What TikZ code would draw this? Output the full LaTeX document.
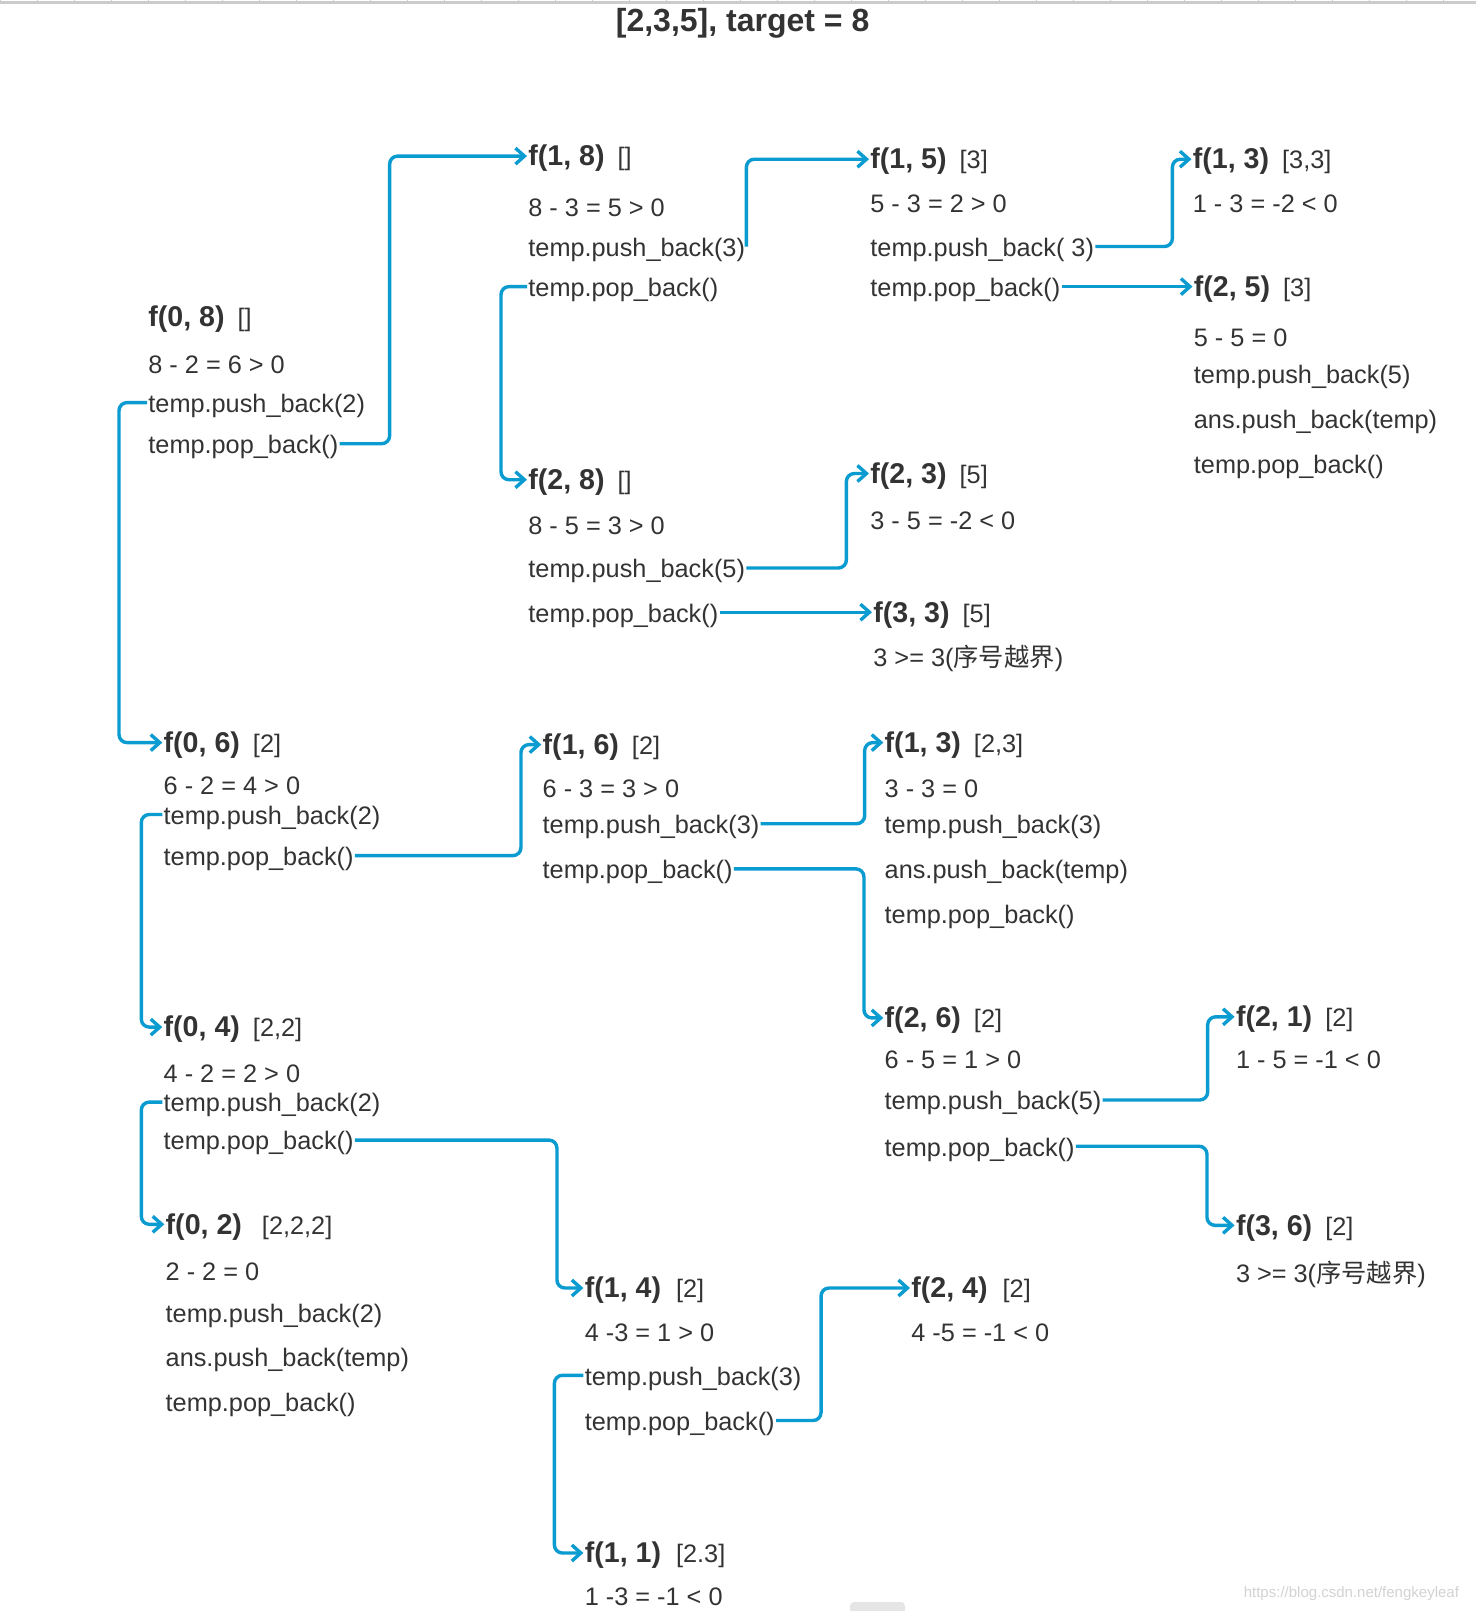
\documentclass[tikz,border=0pt]{standalone}
\usepackage{fontspec}
\setmainfont{Liberation Sans}
\newfontfamily\cjk{Noto Sans CJK SC}
\usetikzlibrary{arrows.meta}
\definecolor{link}{HTML}{0A9BD0}
\definecolor{ink}{HTML}{333333}
\newcommand{\hdr}[3][6.5pt]{{\fontsize{14.3}{16}\selectfont\bfseries #2}\hspace{#1}#3}

\begin{document}
\begin{tikzpicture}[x=0.5pt,y=-0.5pt,
  txt/.style={anchor=west,inner sep=0.5pt,text height=11.5pt,text depth=1.7pt,text=ink,font=\fontsize{12.65}{15}\selectfont},
  arr/.style={-{Straight Barb[length=4.5pt,width=8pt]},line width=1.7pt,link,rounded corners=4pt}]
\useasboundingbox (0,0) rectangle (1476,1611);
% screen edges
\draw[gray!40,line width=1.5pt] (0,3) -- (1476,3);
\foreach \i in {0,...,40} \draw[gray!40,line width=0.5pt] (\i*37,0) -- (\i*37,2);
\fill[gray!20,rounded corners=2pt] (850,1602) rectangle (905,1616);
\node[font=\fontsize{16}{19}\selectfont\bfseries,text=ink] (title) at (742.6,23.5) {[2,3,5], target = 8};

% f(0,8)
\node[txt] (f08) at (147,316.3) {\hdr{f(0, 8)}{[]}};
\node[txt] (f08s) at (147,363.6) {8 - 2 = 6 > 0};
\node[txt] (f08u) at (147,402.6) {temp.push\_back(2)};
\node[txt] (f08o) at (147,443.7) {temp.pop\_back()};
% f(1,8)
\node[txt] (f18) at (527,156.1) {\hdr{f(1, 8)}{[]}};
\node[txt] (f18s) at (527,206.4) {8 - 3 = 5 > 0};
\node[txt] (f18u) at (527,246.5) {temp.push\_back(3)};
\node[txt] (f18o) at (527,286.6) {temp.pop\_back()};
% f(1,5)
\node[txt] (f15) at (869,159.2) {\hdr{f(1, 5)}{[3]}};
\node[txt] (f15s) at (869,202.3) {5 - 3 = 2 > 0};
\node[txt] (f15u) at (869,246.5) {temp.push\_back( 3)};
\node[txt] (f15o) at (869,286.6) {temp.pop\_back()};
% f(1,3) [3,3]
\node[txt] (f13a) at (1191.5,159.2) {\hdr{f(1, 3)}{[3,3]}};
\node[txt] (f13as) at (1191.5,202.3) {1 - 3 = -2 < 0};
% f(2,5)
\node[txt] (f25) at (1192.5,286.6) {\hdr{f(2, 5)}{[3]}};
\node[txt] (f25s) at (1192.5,336.9) {5 - 5 = 0};
\node[txt] (f25u) at (1192.5,373.9) {temp.push\_back(5)};
\node[txt] (f25a) at (1192.5,419.1) {ans.push\_back(temp)};
\node[txt] (f25o) at (1192.5,463.2) {temp.pop\_back()};
% f(2,8)
\node[txt] (f28) at (527,479.7) {\hdr{f(2, 8)}{[]}};
\node[txt] (f28s) at (527,524.8) {8 - 5 = 3 > 0};
\node[txt] (f28u) at (527,568) {temp.push\_back(5)};
\node[txt] (f28o) at (527,612.2) {temp.pop\_back()};
% f(2,3)
\node[txt] (f23) at (869,473.5) {\hdr{f(2, 3)}{[5]}};
\node[txt] (f23s) at (869,519.7) {3 - 5 = -2 < 0};
% f(3,3)
\node[txt] (f33) at (872,612.2) {\hdr{f(3, 3)}{[5]}};
\node[txt] (f33s) at (872,656.3) {3 >= 3({\cjk 序号越界})};

% f(0,6)
\node[txt] (f06) at (162.3,742.6) {\hdr{f(0, 6)}{[2]}};
\node[txt] (f06s) at (162.3,784.7) {6 - 2 = 4 > 0};
\node[txt] (f06u) at (162.3,814.5) {temp.push\_back(2)};
\node[txt] (f06o) at (162.3,855.6) {temp.pop\_back()};
% f(1,6)
\node[txt] (f16) at (541.3,744.6) {\hdr{f(1, 6)}{[2]}};
\node[txt] (f16s) at (541.3,787.8) {6 - 3 = 3 > 0};
\node[txt] (f16u) at (541.3,823.7) {temp.push\_back(3)};
\node[txt] (f16o) at (541.3,868.9) {temp.pop\_back()};
% f(1,3) [2,3]
\node[txt] (f13b) at (883.3,742.6) {\hdr{f(1, 3)}{[2,3]}};
\node[txt] (f13bs) at (883.3,787.8) {3 - 3 = 0};
\node[txt] (f13bu) at (883.3,823.7) {temp.push\_back(3)};
\node[txt] (f13ba) at (883.3,868.9) {ans.push\_back(temp)};
\node[txt] (f13bo) at (883.3,914.1) {temp.pop\_back()};
% f(2,6)
\node[txt] (f26) at (883.3,1017.9) {\hdr{f(2, 6)}{[2]}};
\node[txt] (f26s) at (883.3,1058.9) {6 - 5 = 1 > 0};
\node[txt] (f26u) at (883.3,1100) {temp.push\_back(5)};
\node[txt] (f26o) at (883.3,1146.2) {temp.pop\_back()};
% f(2,1)
\node[txt] (f21) at (1234.6,1016.8) {\hdr{f(2, 1)}{[2]}};
\node[txt] (f21s) at (1234.6,1058.9) {1 - 5 = -1 < 0};
% f(3,6)
\node[txt] (f36) at (1234.6,1225.3) {\hdr{f(3, 6)}{[2]}};
\node[txt] (f36s) at (1234.6,1272.6) {3 >= 3({\cjk 序号越界})};
% f(0,4)
\node[txt] (f04) at (162.3,1027.1) {\hdr{f(0, 4)}{[2,2]}};
\node[txt] (f04s) at (162.3,1072.3) {4 - 2 = 2 > 0};
\node[txt] (f04u) at (162.3,1102.1) {temp.push\_back(2)};
\node[txt] (f04o) at (162.3,1140.1) {temp.pop\_back()};
% f(0,2)
\node[txt] (f02) at (164.3,1224.3) {\hdr[10pt]{f(0, 2)}{[2,2,2]}};
\node[txt] (f02s) at (164.3,1270.5) {2 - 2 = 0};
\node[txt] (f02u) at (164.3,1312.6) {temp.push\_back(2)};
\node[txt] (f02a) at (164.3,1356.8) {ans.push\_back(temp)};
\node[txt] (f02o) at (164.3,1402) {temp.pop\_back()};
% f(1,4)
\node[txt] (f14) at (583.4,1288) {\hdr[7.5pt]{f(1, 4)}{[2]}};
\node[txt] (f14s) at (583.4,1332.1) {4 -3 = 1 > 0};
\node[txt] (f14u) at (583.4,1375.3) {temp.push\_back(3)};
\node[txt] (f14o) at (583.4,1420.5) {temp.pop\_back()};
% f(2,4)
\node[txt] (f24) at (910,1288) {\hdr[7.5pt]{f(2, 4)}{[2]}};
\node[txt] (f24s) at (910,1332.1) {4 -5 = -1 < 0};
% f(1,1)
\node[txt] (f11) at (583.4,1553) {\hdr[7.5pt]{f(1, 1)}{[2.3]}};
\node[txt] (f11s) at (583.4,1596.1) {1 -3 = -1 < 0};

\node[anchor=east,text=gray!35,font=\fontsize{7.5}{9}\selectfont] (wm) at (1466,1594) {https://blog.csdn.net/fengkeyleaf};

% calls
\draw[arr] (f08o.east) -- ++(50,0) |- (f18.west);
\draw[arr] (f08u.west) -- ++(-28,0) |- (f06.west);
\draw[arr] (f18u.east) |- (f15.west);
\draw[arr] (f18o.west) -- ++(-26,0) |- (f28.west);
\draw[arr] (f15u.east) -- ++(77,0) |- (f13a.west);
\draw[arr] (f15o.east) -- (f25.west);
\draw[arr] (f28u.east) -- ++(100,0) |- (f23.west);
\draw[arr] (f28o.east) -- (f33.west);
\draw[arr] (f06u.west) -- ++(-21,0) |- (f04.west);
\draw[arr] (f06o.east) -- ++(166,0) |- (f16.west);
\draw[arr] (f16u.east) -- ++(104,0) |- (f13b.west);
\draw[arr] (f16o.east) -- ++(130,0) |- (f26.west);
\draw[arr] (f26u.east) -- ++(105,0) |- (f21.west);
\draw[arr] (f26o.east) -- ++(131,0) |- (f36.west);
\draw[arr] (f04u.west) -- ++(-21,0) |- (f02.west);
\draw[arr] (f04o.east) -- ++(202,0) |- (f14.west);
\draw[arr] (f14u.west) -- ++(-29,0) |- (f11.west);
\draw[arr] (f14o.east) -- ++(45,0) |- (f24.west);
\end{tikzpicture}
\end{document}
